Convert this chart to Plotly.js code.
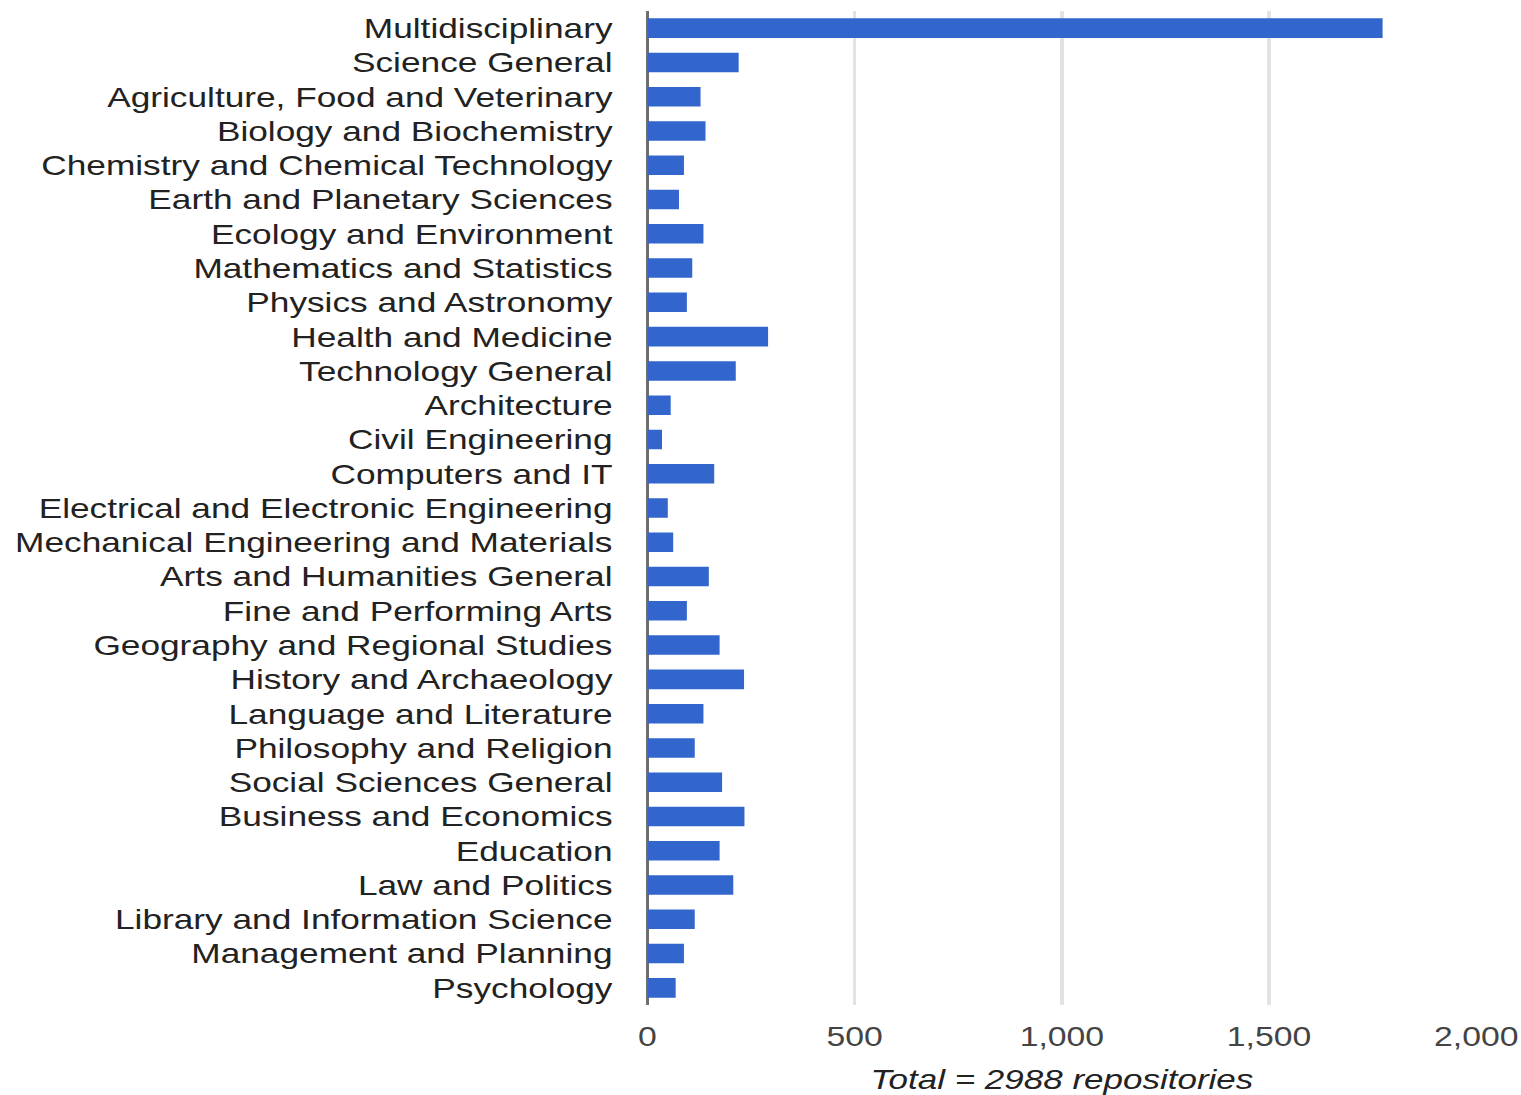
<!DOCTYPE html>
<html>
<head>
<meta charset="utf-8">
<script src="https://cdn.plot.ly/plotly-3.0.1.min.js"></script>
<style>
  html, body { margin: 0; padding: 0; background: #ffffff; overflow: hidden; }
  #chart { width: 1217px; height: 1095px; transform: scaleX(1.25); transform-origin: 0 0; }
</style>
</head>
<body>
<div id="chart"></div>
<script>
const categories = [
  "Multidisciplinary",
  "Science General",
  "Agriculture, Food and Veterinary",
  "Biology and Biochemistry",
  "Chemistry and Chemical Technology",
  "Earth and Planetary Sciences",
  "Ecology and Environment",
  "Mathematics and Statistics",
  "Physics and Astronomy",
  "Health and Medicine",
  "Technology General",
  "Architecture",
  "Civil Engineering",
  "Computers and IT",
  "Electrical and Electronic Engineering",
  "Mechanical Engineering and Materials",
  "Arts and Humanities General",
  "Fine and Performing Arts",
  "Geography and Regional Studies",
  "History and Archaeology",
  "Language and Literature",
  "Philosophy and Religion",
  "Social Sciences General",
  "Business and Economics",
  "Education",
  "Law and Politics",
  "Library and Information Science",
  "Management and Planning",
  "Psychology"
];

const repositories = [
  1774, 220, 128, 140, 88, 76, 135, 108, 95, 291,
  213, 56, 35, 161, 49, 62, 148, 95, 174, 233,
  135, 114, 180, 234, 174, 207, 114, 88, 68
];

const xTickValues = [0, 500, 1000, 1500, 2000];
const xTickLabels = ["0", "500", "1,000", "1,500", "2,000"];
const xTitle = "Total = 2988 repositories";

const FONT = '"Liberation Sans", Arial, sans-serif';

const data = [{
  type: 'bar',
  orientation: 'h',
  x: repositories,
  y: categories,
  marker: { color: '#3366cc' },
  hoverinfo: 'x+y'
}];

const layout = {
  width: 1217,
  height: 1095,
  margin: { l: 518, r: 36, t: 11, b: 90 },
  paper_bgcolor: '#ffffff',
  plot_bgcolor: '#ffffff',
  bargap: 0.43,
  showlegend: false,
  font: { family: FONT, color: '#222222' },
  xaxis: {
    range: [0, 2000],
    tickvals: xTickValues,
    ticktext: xTickLabels,
    showgrid: true,
    gridcolor: '#e3e3e3',
    gridwidth: 2.6,
    zeroline: true,
    zerolinecolor: '#6e6e6e',
    zerolinewidth: 2.6,
    showline: false,
    ticks: '',
    ticklabelstandoff: 13,
    tickfont: { family: FONT, size: 27, color: '#444444' },
    title: {
      text: xTitle,
      font: { family: FONT, size: 28, color: '#222222', style: 'italic' },
      standoff: 19
    }
  },
  yaxis: {
    type: 'category',
    autorange: 'reversed',
    showgrid: false,
    zeroline: false,
    showline: false,
    ticks: '',
    ticklabelstandoff: 27,
    tickfont: { family: FONT, size: 28.2, color: '#222222' }
  }
};

Plotly.newPlot('chart', data, layout, { displayModeBar: false, staticPlot: true });
</script>
</body>
</html>
